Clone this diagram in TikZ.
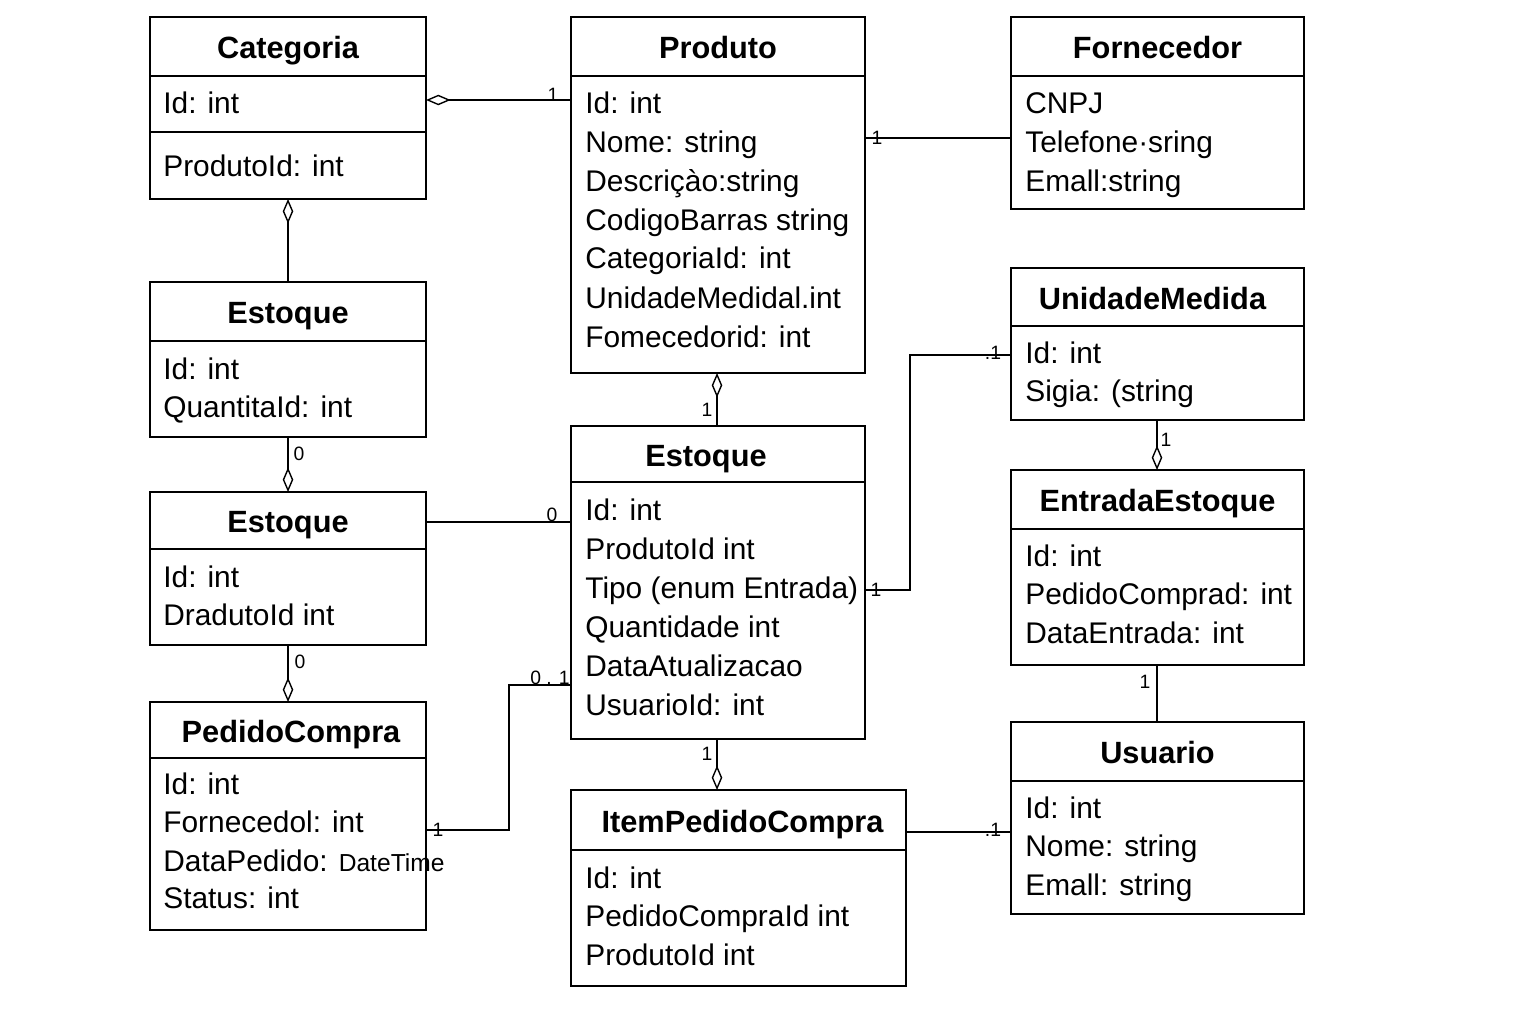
\documentclass[tikz,border=0pt]{standalone}
\usepackage{fontspec}
\setmainfont{Liberation Sans}
\usetikzlibrary{arrows.meta}
\tikzset{
  box/.style={draw, line width=0.9pt, inner sep=0pt, outer sep=0pt, anchor=north west},
  ttl/.style={font=\fontsize{17.5}{20}\selectfont\bfseries, anchor=center, inner sep=0pt, text height=12.5pt, text depth=0pt},
  attr/.style={font=\fontsize{17}{20}\selectfont, anchor=west, inner sep=0pt, text height=12.2pt, text depth=0pt},
  mult/.style={font=\fontsize{11}{13}\selectfont, inner sep=0pt},
  conn/.style={line width=0.8pt},
  agg/.style={-{Diamond[open,length=14pt,width=6pt,line width=0.8pt]}},
}
\newcommand\umlbox[8][0]{%
  \pgfmathsetmacro\bw{(#5-#3)*0.02}%
  \pgfmathsetmacro\bh{(#6-#4)*0.02}%
  \pgfmathsetmacro\tx{(#3+#5)/2+#1}%
  \pgfmathsetmacro\ty{(#4+#7)/2+1.5}%
  \node[box, minimum width=\bw cm, minimum height=\bh cm] (#2) at (#3,#4) {};
  \draw[line width=0.9pt] (#3,#7) -- (#5,#7);
  \node[ttl] (#2t) at (\tx,\ty) {#8};
}
\begin{document}
\begin{tikzpicture}[x=0.02cm,y=-0.02cm]
\useasboundingbox (0,0) rectangle (1536,1024);

% Categoria
\umlbox{cat}{150}{17}{426}{199}{76}{Categoria}
\draw[line width=0.9pt] (150,132) -- (426,132);
\node[attr] (catA) at (163,103) {Id: int};
\node[attr] (catB) at (163,166) {ProdutoId: int};

% Produto
\umlbox{prod}{571}{17}{865}{373}{76}{Produto}
\node[attr] (prodA) at (585,103) {Id: int};
\node[attr] (prodB) at (585,142) {Nome: string};
\node[attr] (prodC) at (585,181) {Descriçào:string};
\node[attr] (prodD) at (585,220) {CodigoBarras string};
\node[attr] (prodE) at (585,258) {CategoriaId: int};
\node[attr] (prodF) at (585,298) {UnidadeMedidal.int};
\node[attr] (prodG) at (585,337) {Fomecedorid: int};

% Fornecedor
\umlbox{forn}{1011}{17}{1304}{209}{76}{Fornecedor}
\node[attr] (fornA) at (1025,103) {CNPJ};
\node[attr] (fornB) at (1025,142) {Telefone·sring};
\node[attr] (fornC) at (1025,181) {Emall:string};

% UnidadeMedida
\umlbox[-5]{unid}{1011}{268}{1304}{420}{326}{UnidadeMedida}
\node[attr] (unidA) at (1025,353) {Id: int};
\node[attr] (unidB) at (1025,391) {Sigia: (string};

% Estoque 1
\umlbox{est1}{150}{282}{426}{437}{341}{Estoque}
\node[attr] (est1A) at (163,369) {Id: int};
\node[attr] (est1B) at (163,407) {QuantitaId: int};

% Estoque 2
\umlbox{est2}{150}{492}{426}{645}{549}{Estoque}
\node[attr] (est2A) at (163,577) {Id: int};
\node[attr] (est2B) at (163,615) {DradutoId int};

% Estoque central
\umlbox[-12]{estc}{571}{426}{865}{739}{482}{Estoque}
\node[attr] (estcA) at (585,510) {Id: int};
\node[attr] (estcB) at (585,549) {ProdutoId int};
\node[attr] (estcC) at (585,588) {Tipo (enum Entrada)};
\node[attr] (estcD) at (585,627) {Quantidade int};
\node[attr] (estcE) at (585,666) {DataAtualizacao};
\node[attr] (estcF) at (585,705) {UsuarioId: int};

% EntradaEstoque
\umlbox{entr}{1011}{470}{1304}{665}{529}{EntradaEstoque}
\node[attr] (entrA) at (1025,556) {Id: int};
\node[attr] (entrB) at (1025,594) {PedidoComprad: int};
\node[attr] (entrC) at (1025,633) {DataEntrada: int};

% PedidoCompra
\umlbox[3]{ped}{150}{702}{426}{930}{758}{PedidoCompra}
\node[attr] (pedA) at (163,784) {Id: int};
\node[attr] (pedB) at (163,822) {Fornecedol: int};
\node[attr] (pedC) at (163,861) {DataPedido: {\fontsize{14}{16}\selectfont DateTime}};
\node[attr] (pedD) at (163,898) {Status: int};

% Usuario
\umlbox{usu}{1011}{722}{1304}{914}{781}{Usuario}
\node[attr] (usuA) at (1025,808) {Id: int};
\node[attr] (usuB) at (1025,846) {Nome: string};
\node[attr] (usuC) at (1025,885) {Emall: string};

% ItemPedidoCompra
\umlbox[4]{item}{571}{790}{906}{986}{850}{ItemPedidoCompra}
\node[attr] (itemA) at (585,878) {Id: int};
\node[attr] (itemB) at (585,916) {PedidoCompraId int};
\node[attr] (itemC) at (585,955) {ProdutoId int};

% helper coordinates for connector heights / positions
\coordinate (y100) at (0,100);
\coordinate (y138) at (0,138);
\coordinate (y522) at (0,522);
\coordinate (y685) at (0,685);
\coordinate (y830) at (0,830);
\coordinate (y590) at (0,590);
\coordinate (y355) at (0,355);
\coordinate (y832) at (0,832);
\coordinate (x717) at (717,0);
\coordinate (x1157) at (1157,0);
\coordinate (b1) at (509,685);
\coordinate (b2) at (509,830);
\coordinate (b3) at (910,590);
\coordinate (b4) at (910,355);

% Connectors
\draw[conn,agg] (prod.west |- y100) -- (cat.east |- y100);
\draw[conn] (prod.east |- y138) -- (forn.west |- y138);
\draw[conn,agg] (est1.north) -- (cat.south);
\draw[conn,agg] (estc.north -| x717) -- (prod.south -| x717);
\draw[conn,agg] (est1.south) -- (est2.north);
\draw[conn,agg] (est2.south) -- (ped.north);
\draw[conn] (est2.east |- y522) -- (estc.west |- y522);
\draw[conn] (estc.west |- y685) -- (b1) -- (b2) -- (ped.east |- y830);
\draw[conn] (estc.east |- y590) -- (b3) -- (b4) -- (unid.west |- y355);
\draw[conn,agg] (unid.south -| x1157) -- (entr.north -| x1157);
\draw[conn] (entr.south -| x1157) -- (usu.north -| x1157);
\draw[conn,agg] (estc.south -| x717) -- (item.north -| x717);
\draw[conn] (item.east |- y832) -- (usu.west |- y832);

% Multiplicities
\node[mult] (m1) at (553,95) {1};
\node[mult] (m2) at (877,138) {1};
\node[mult] (m3) at (707,410) {1};
\node[mult] (m4) at (299,454) {0};
\node[mult] (m5) at (300,662) {0};
\node[mult] (m6) at (552,515) {0};
\node[mult] (m7) at (550,678) {0 . 1};
\node[mult] (m8) at (438,830) {1};
\node[mult] (m9) at (876,590) {1};
\node[mult] (m10) at (993,353) {.1};
\node[mult] (m11) at (1166,440) {1};
\node[mult] (m12) at (1145,682) {1};
\node[mult] (m13) at (707,754) {1};
\node[mult] (m14) at (993,830) {.1};
\end{tikzpicture}
\end{document}
